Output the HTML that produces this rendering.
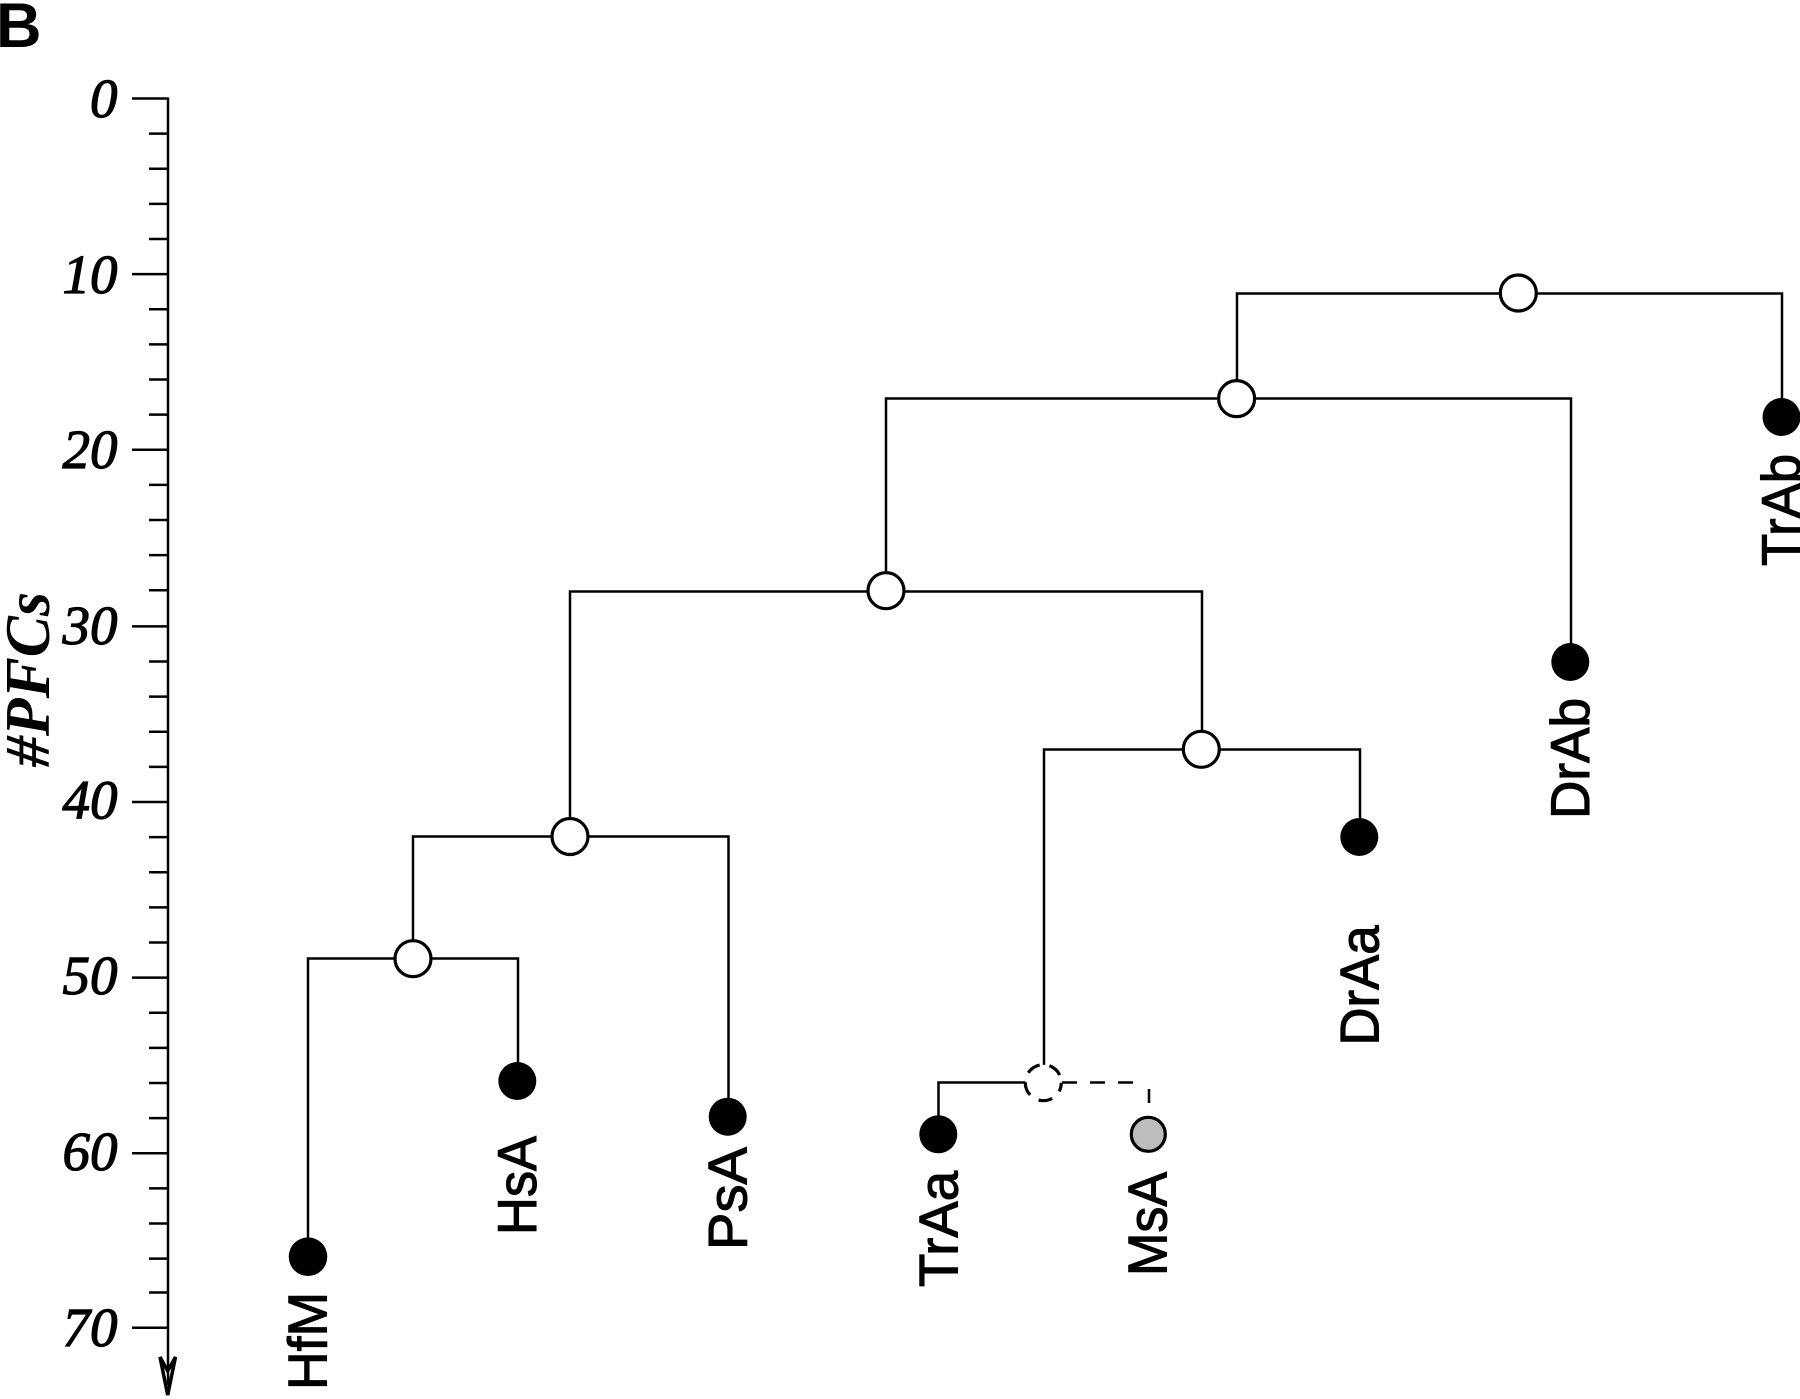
<!DOCTYPE html>
<html>
<head>
<meta charset="utf-8">
<style>
html,body{margin:0;padding:0;background:#fff;width:1800px;height:1399px;overflow:hidden}
svg{display:block}
.l{font-family:"Liberation Sans",sans-serif;font-size:55px;fill:#000;stroke:#000;stroke-width:1.1}
.n{font-family:"Liberation Serif",serif;font-style:italic;font-size:55px;fill:#000;stroke:#000;stroke-width:1.2;text-anchor:end}
</style>
</head>
<body>
<svg xmlns="http://www.w3.org/2000/svg" width="1800" height="1399" viewBox="0 0 1800 1399">
<rect width="1800" height="1399" fill="#fff"/>
<text x="-4" y="47" font-family="Liberation Sans, sans-serif" font-weight="700" font-size="63" fill="#000">B</text>

<!-- axis -->
<g stroke="#000" stroke-width="2.5" fill="none">
<path d="M168 97.5V1385"/>
<path d="M132 98.5H168M149 133.6H168M149 168.7H168M149 203.9H168M149 239H168M132 274.1H168M149 309.2H168M149 344.4H168M149 379.5H168M149 414.6H168M132 449.7H168M149 484.9H168M149 520H168M149 555.1H168M149 590.2H168"/>
<path d="M132 626.4H168M149 661.5H168M149 696.6H168M149 731.8H168M149 766.9H168M132 802H168M149 837.1H168M149 872.3H168M149 907.4H168M149 942.5H168M132 977.6H168M149 1012.8H168M149 1047.9H168M149 1083H168M149 1118.1H168M132 1153.3H168M149 1188.4H168M149 1223.5H168M149 1258.6H168M149 1292.5H168M132 1327.7H168"/>
<path d="M160 1357L167.7 1395L175.5 1357L167.7 1371Z" stroke-width="3.5" stroke-linejoin="miter"/>
</g>

<text class="n" x="117.5" y="117">0</text>
<text class="n" x="117.5" y="293">10</text>
<text class="n" x="117.5" y="468">20</text>
<text class="n" x="117.5" y="644">30</text>
<text class="n" x="117.5" y="818.5">40</text>
<text class="n" x="117.5" y="994">50</text>
<text class="n" x="117.5" y="1170">60</text>
<text class="n" x="117.5" y="1346">70</text>

<text transform="translate(49 767) rotate(-90)" font-family="Liberation Serif, serif" font-style="italic" font-weight="700" font-size="64" textLength="175" lengthAdjust="spacingAndGlyphs" fill="#000">#PFCs</text>

<!-- tree lines -->
<g stroke="#000" stroke-width="2.5" fill="none">
<path d="M1237 398V293.5H1782V398"/>
<path d="M886 591V398.5H1571V645"/>
<path d="M570 836V591.5H1202V750"/>
<path d="M1044 1075V749.5H1360V820"/>
<path d="M413 958V836.5H728.5V1100"/>
<path d="M308 1240V958.5H518V1065"/>
<path d="M938.5 1118V1082.5H1026"/>
<path d="M1062 1082.5H1142" stroke-dasharray="15 13"/>
<path d="M1149 1089V1103"/>
</g>

<!-- open nodes -->
<g fill="#fff" stroke="#000" stroke-width="3.2">
<circle cx="1518.3" cy="293" r="18"/>
<circle cx="1236.6" cy="398.6" r="18"/>
<circle cx="886" cy="590.7" r="18"/>
<circle cx="1201.3" cy="749.3" r="18"/>
<circle cx="570" cy="836.5" r="18"/>
<circle cx="413" cy="958.7" r="18"/>
<circle cx="1043.3" cy="1082.7" r="18" stroke-dasharray="14 10" stroke-dashoffset="5"/>
<circle cx="1148.3" cy="1134.3" r="17" fill="#bdbdbd"/>
</g>

<!-- leaf nodes -->
<g fill="#000">
<circle cx="1781.5" cy="417" r="19"/>
<circle cx="1570.3" cy="662" r="19"/>
<circle cx="1359.3" cy="837" r="19"/>
<circle cx="727.7" cy="1116.7" r="19"/>
<circle cx="517.3" cy="1081" r="19"/>
<circle cx="308" cy="1256.7" r="19.3"/>
<circle cx="938.3" cy="1134.3" r="19"/>
</g>

<!-- labels -->
<text class="l" transform="translate(326.7 1390) rotate(-90)" textLength="98" lengthAdjust="spacingAndGlyphs">HfM</text>
<text class="l" transform="translate(536 1235) rotate(-90)" textLength="99" lengthAdjust="spacingAndGlyphs">HsA</text>
<text class="l" transform="translate(746.5 1250) rotate(-90)" textLength="103" lengthAdjust="spacingAndGlyphs">PsA</text>
<text class="l" transform="translate(957.3 1287) rotate(-90)" textLength="116" lengthAdjust="spacingAndGlyphs">TrAa</text>
<text class="l" transform="translate(1166.7 1276) rotate(-90)" textLength="104" lengthAdjust="spacingAndGlyphs">MsA</text>
<text class="l" transform="translate(1378.3 1045.5) rotate(-90)" textLength="120" lengthAdjust="spacingAndGlyphs">DrAa</text>
<text class="l" transform="translate(1589 819) rotate(-90)" textLength="121" lengthAdjust="spacingAndGlyphs">DrAb</text>
<text class="l" transform="translate(1800 566) rotate(-90)" textLength="112" lengthAdjust="spacingAndGlyphs">TrAb</text>
</svg>
</body>
</html>
